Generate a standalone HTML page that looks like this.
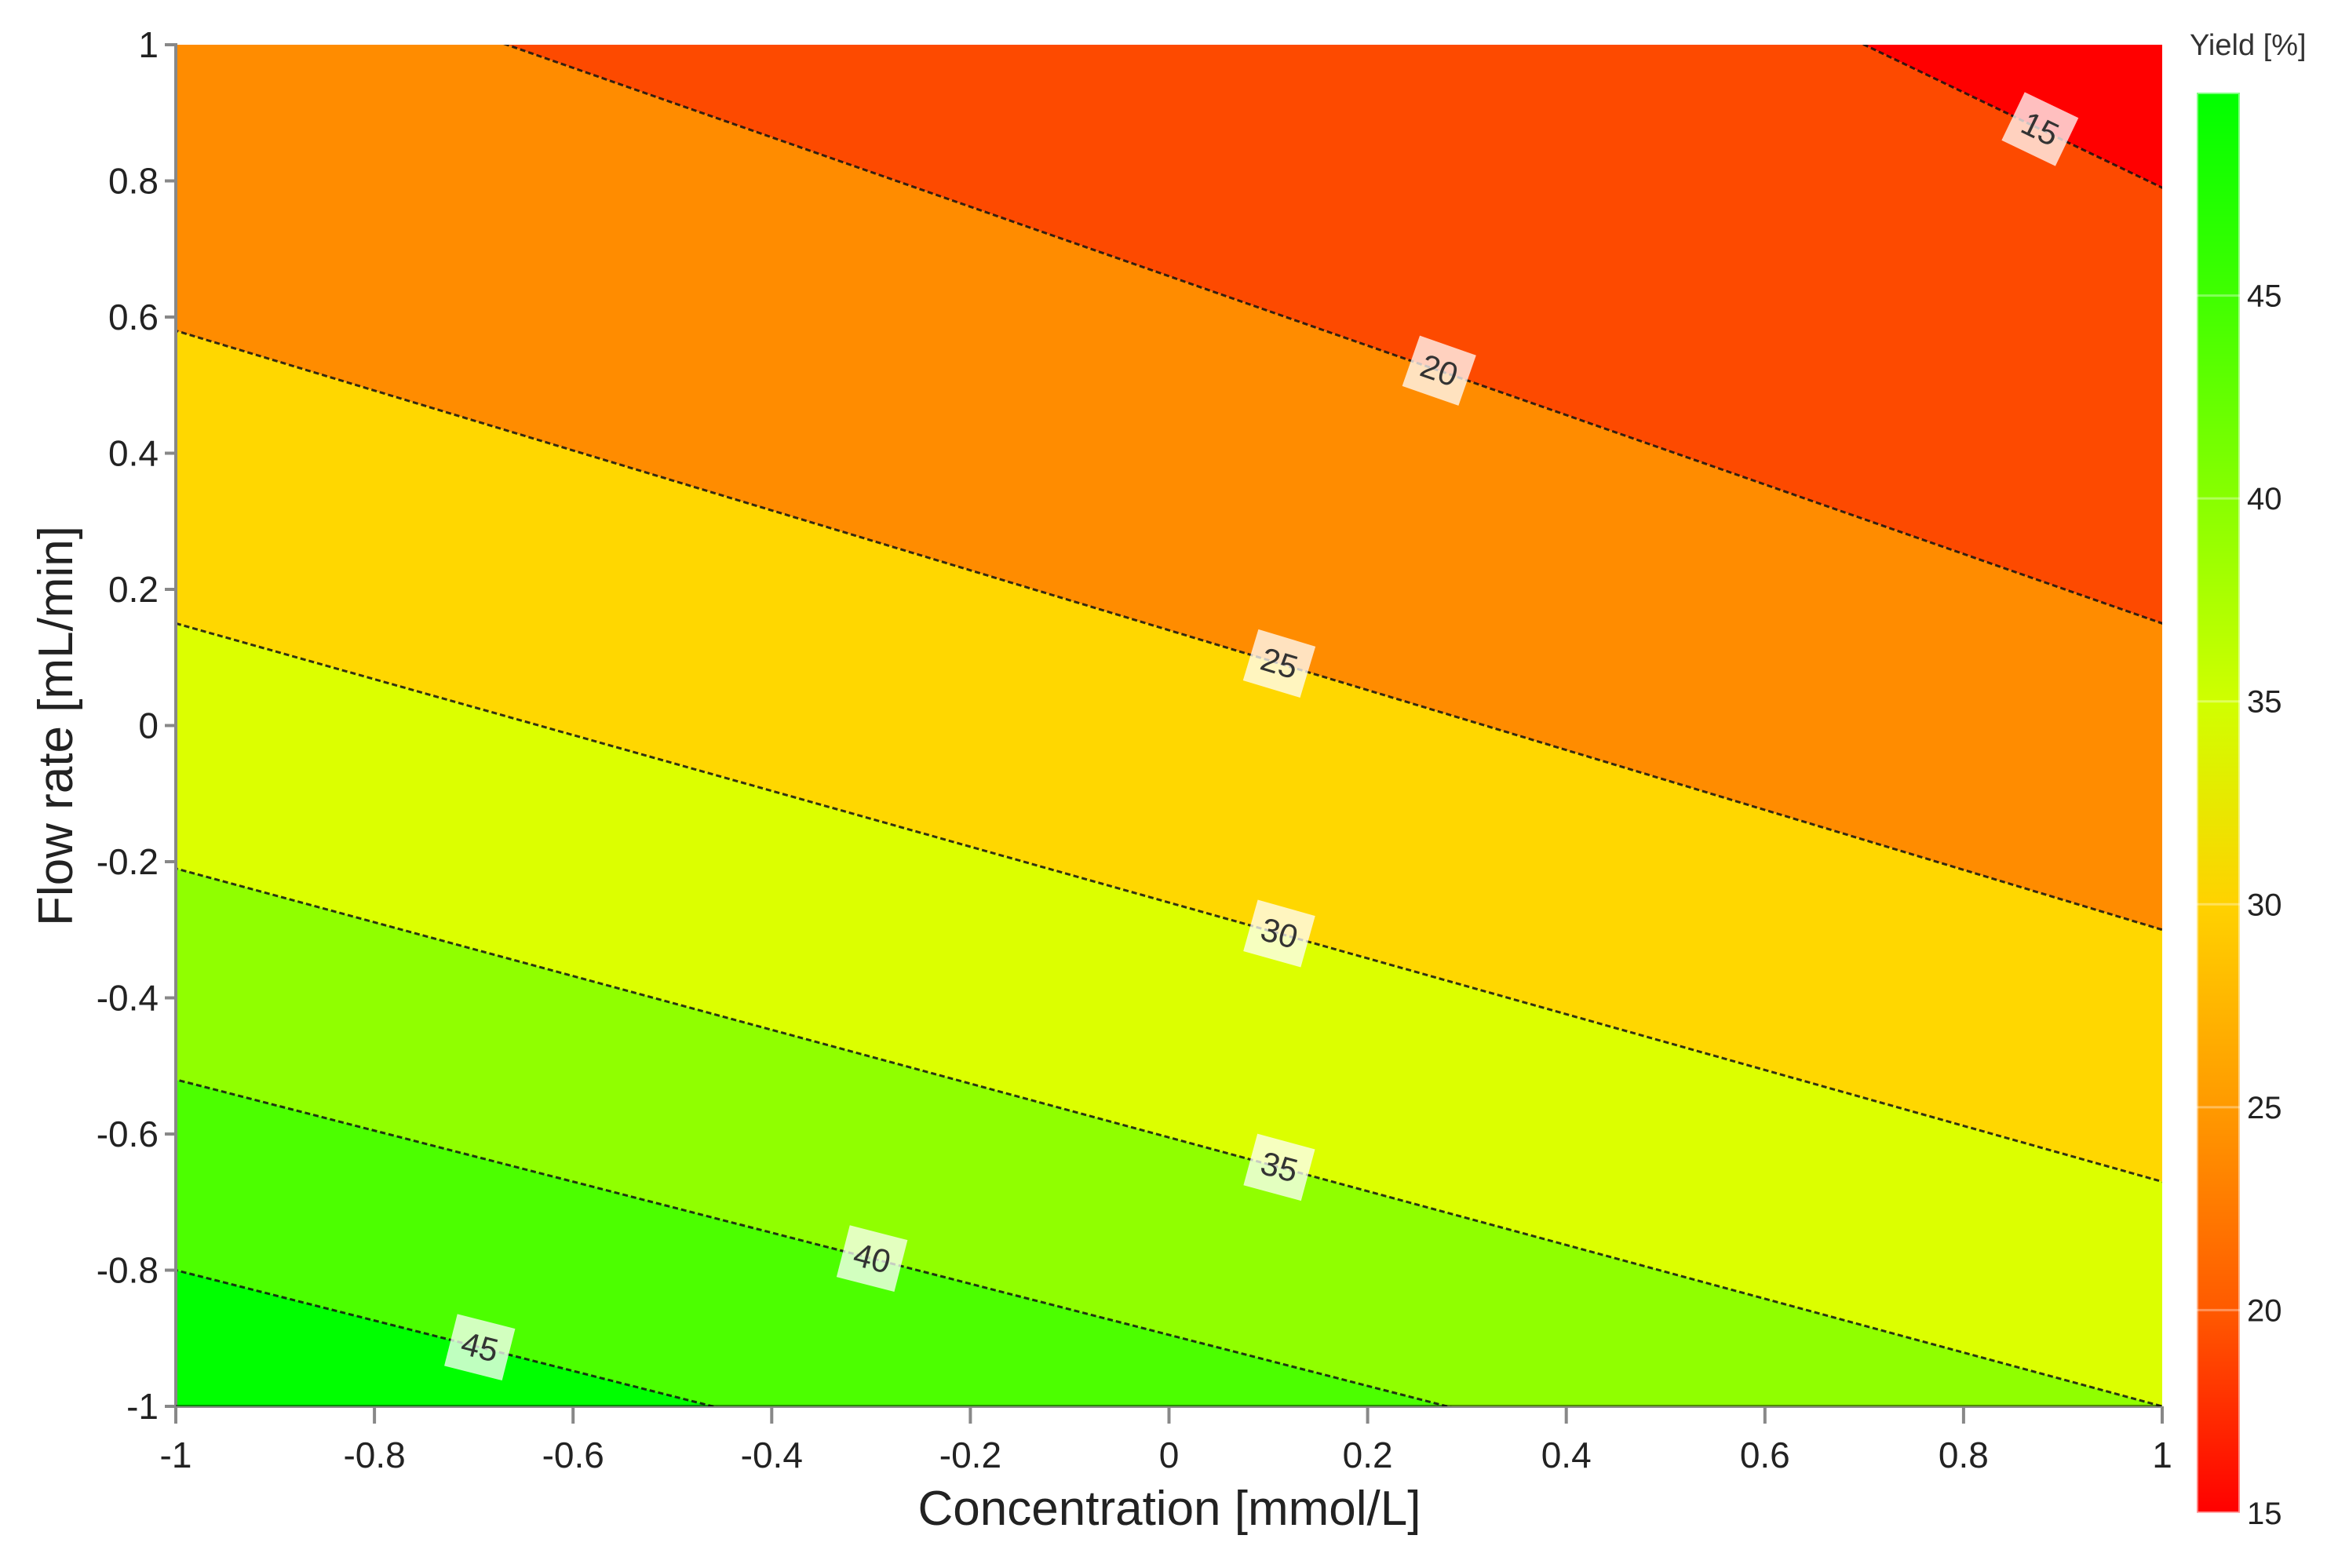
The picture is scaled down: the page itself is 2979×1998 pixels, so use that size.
<!DOCTYPE html>
<html><head><meta charset="utf-8"><style>
html,body{margin:0;padding:0;background:#fff;width:2979px;height:1998px;overflow:hidden;}
svg{display:block;font-family:"Liberation Sans",sans-serif;}
</style></head><body>
<svg id="chart" width="2979" height="1998" viewBox="0 0 2979 1998">
<defs>
<clipPath id="plotclip"><rect x="224" y="57" width="2531" height="1735"/></clipPath>
<linearGradient id="cbgrad" x1="0" y1="0" x2="0" y2="1">
<stop offset="0" stop-color="#00ff00"/>
<stop offset="0.143" stop-color="#40ff00"/>
<stop offset="0.286" stop-color="#88ff00"/>
<stop offset="0.429" stop-color="#d0ff00"/>
<stop offset="0.571" stop-color="#ffd200"/>
<stop offset="0.714" stop-color="#ff9a00"/>
<stop offset="0.857" stop-color="#ff5a00"/>
<stop offset="1" stop-color="#ff0000"/>
</linearGradient>
</defs>
<g id="bands" clip-path="url(#plotclip)"></g>
<g id="lines" clip-path="url(#plotclip)"></g>
<g id="labels"></g>
<g id="axes"></g>
<g id="colorbar"></g>
</svg>
<script>
const levels = [15, 20, 25, 30, 35, 40, 45];
const yAtLeft = [2.19, 1.17, 0.58, 0.15, -0.21, -0.52, -0.80];
const yAtRight = [0.79, 0.15, -0.30, -0.67, -1.00, -1.27, -1.54];
const labelX = [0.877, 0.272, 0.111, 0.111, 0.111, -0.299, -0.694];
const bandColors = ["#ff0000", "#fd4a00", "#ff8c00", "#ffd700", "#dcff00", "#90ff00", "#4cff00", "#00ff00"];
const xTicks = [-1, -0.8, -0.6, -0.4, -0.2, 0, 0.2, 0.4, 0.6, 0.8, 1];
const yTicks = [-1, -0.8, -0.6, -0.4, -0.2, 0, 0.2, 0.4, 0.6, 0.8, 1];
const cbTicks = [15, 20, 25, 30, 35, 40, 45];
const cbMin = 15, cbMax = 50;

const NS = "http://www.w3.org/2000/svg";
const L = 224, R = 2755, T = 57, B = 1792;
const sx = v => L + (v + 1) / 2 * (R - L);
const sy = v => B - (v + 1) / 2 * (B - T);
const cbTop = 118, cbBot = 1928, cbL = 2799, cbR = 2854;
const cy = v => cbBot - (v - cbMin) / (cbMax - cbMin) * (cbBot - cbTop);
function mk(tag, attrs, parent) {
  const e = document.createElementNS(NS, tag);
  for (const k in attrs) e.setAttribute(k, attrs[k]);
  parent.appendChild(e);
  return e;
}
const lineY = (i, x) => yAtLeft[i] + (yAtRight[i] - yAtLeft[i]) * (x + 1) / 2;
const bands = document.getElementById('bands');
const linesG = document.getElementById('lines');
const labelsG = document.getElementById('labels');
const axes = document.getElementById('axes');
const cb = document.getElementById('colorbar');
const X0 = -3, X1 = 3;
for (let b = 0; b <= levels.length; b++) {
  let pts;
  if (b === 0) {
    pts = [[X0, 10], [X1, 10], [X1, lineY(0, X1)], [X0, lineY(0, X0)]];
  } else if (b === levels.length) {
    pts = [[X0, lineY(b - 1, X0)], [X1, lineY(b - 1, X1)], [X1, -10], [X0, -10]];
  } else {
    pts = [[X0, lineY(b - 1, X0)], [X1, lineY(b - 1, X1)], [X1, lineY(b, X1)], [X0, lineY(b, X0)]];
  }
  const p = mk('polygon', {points: pts.map(q => sx(q[0]) + ',' + sy(q[1])).join(' '), fill: bandColors[b]}, bands);
  
  
}
levels.forEach((lv, i) => {
  const ln = mk('line', {x1: sx(X0), y1: sy(lineY(i, X0)), x2: sx(X1), y2: sy(lineY(i, X1)), stroke: '#111', 'stroke-width': 3, 'stroke-dasharray': '7 4', opacity: 0.85}, linesG);
  
  
  const lx = sx(labelX[i]), ly = sy(lineY(i, labelX[i]));
  const ang = Math.atan2(sy(yAtRight[i]) - sy(yAtLeft[i]), sx(1) - sx(-1)) * 180 / Math.PI;
  const g = mk('g', {transform: `translate(${lx},${ly}) rotate(${ang})`}, labelsG);
  
  
  mk('rect', {x: -38, y: -34, width: 76, height: 68, fill: '#ffffff', opacity: 0.75}, g);
  const t = mk('text', {x: 0, y: 14, 'text-anchor': 'middle', 'font-size': 42, fill: '#333'}, g);
  t.textContent = lv;
});
const ya = mk('line', {x1: L, y1: T - 2, x2: L, y2: B + 22, stroke: '#888', 'stroke-width': 4}, axes);
 
const xa = mk('line', {x1: L, y1: B, x2: R, y2: B, stroke: '#000', 'stroke-opacity': 0.45, 'stroke-width': 4}, axes);
 
xTicks.forEach(v => {
  const tk = mk('line', {x1: sx(v), y1: B, x2: sx(v), y2: B + 22, stroke: '#888', 'stroke-width': 4}, axes);
   
  const t = mk('text', {x: sx(v), y: B + 78, 'text-anchor': 'middle', 'font-size': 46, fill: '#222'}, axes);
   
  t.textContent = String(v);
});
yTicks.forEach(v => {
  const tk = mk('line', {x1: L - 14, y1: sy(v), x2: L, y2: sy(v), stroke: '#888', 'stroke-width': 4}, axes);
   
  const t = mk('text', {x: L - 22, y: sy(v) + 16, 'text-anchor': 'end', 'font-size': 46, fill: '#222'}, axes);
   
  t.textContent = String(v);
});
const xt = mk('text', {x: 1490, y: 1943, 'text-anchor': 'middle', 'font-size': 62, fill: '#222'}, axes);
 
xt.textContent = 'Concentration [mmol/L]';
const yt = mk('text', {x: 0, y: 0, 'text-anchor': 'middle', 'font-size': 62, fill: '#222', transform: 'translate(92,925) rotate(-90)'}, axes);
 
yt.textContent = 'Flow rate [mL/min]';
const cbr = mk('rect', {x: cbL, y: cbTop, width: cbR - cbL, height: cbBot - cbTop, fill: 'url(#cbgrad)', stroke: '#fff', 'stroke-opacity': 0.5, 'stroke-width': 4}, cb);
 
cbTicks.forEach(v => {
  const gl = mk('line', {x1: cbL, y1: cy(v), x2: cbR, y2: cy(v), stroke: '#fff', 'stroke-opacity': 0.35, 'stroke-width': 3}, cb);
   
  const t = mk('text', {x: 2863, y: cy(v) + 14, 'font-size': 40, fill: '#222'}, cb);
   
  t.textContent = v;
});
const cbt = mk('text', {x: 2790, y: 70, 'font-size': 38, fill: '#333'}, cb);
 
cbt.textContent = 'Yield [%]';
</script>
</body></html>
